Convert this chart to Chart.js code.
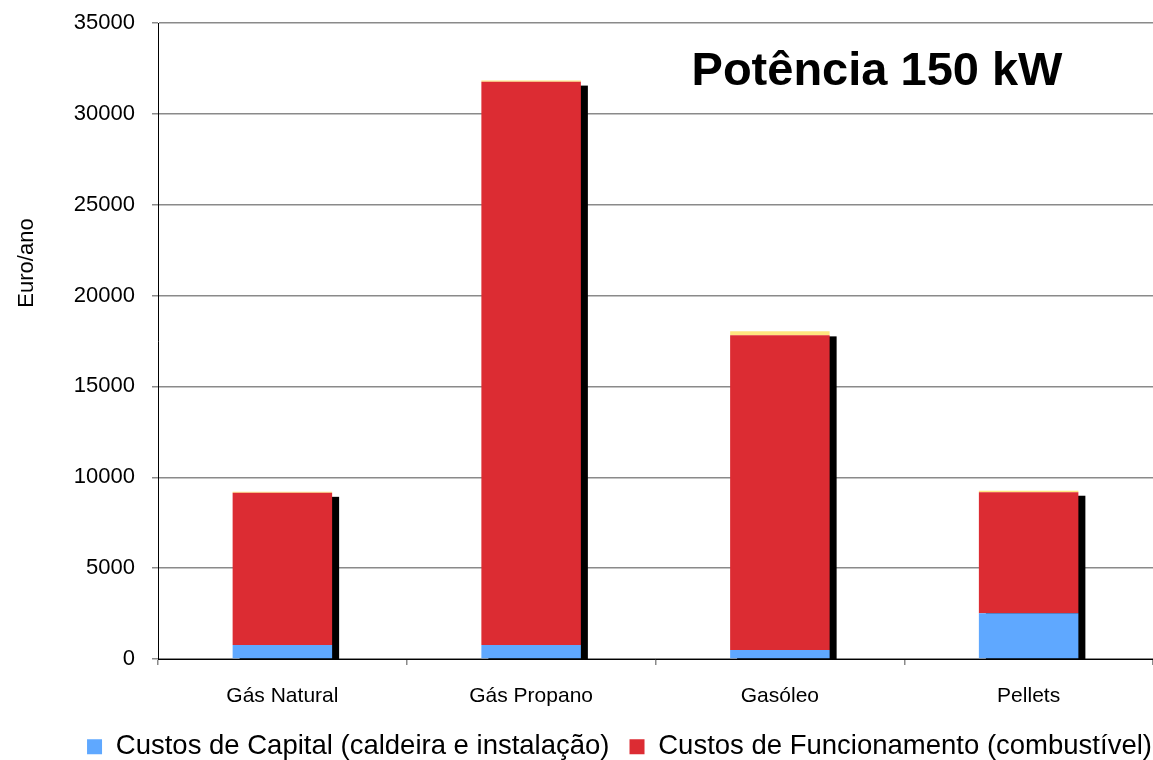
<!DOCTYPE html>
<html lang="pt">
<head>
<meta charset="utf-8">
<title>Potência 150 kW</title>
<script src="https://cdn.jsdelivr.net/npm/chart.js@4/dist/chart.umd.min.js"></script>
<style>
  html, body { margin: 0; padding: 0; background: #fff; }
  #c { display: block; }
</style>
</head>
<body>
<canvas id="c" width="1153" height="760"></canvas>
<script>
// Custos anuais por tipo de combustível (caldeira de 150 kW), em Euro/ano
const categorias = ['Gás Natural', 'Gás Propano', 'Gasóleo', 'Pellets'];
const custosCapital = [770, 770, 500, 2520];
const custosFuncionamento = [8380, 31000, 17310, 6650];
const custosManutencao = [50, 60, 220, 90];
const ticksY = [0, 5000, 10000, 15000, 20000, 25000, 30000, 35000];

const FONT = '"Liberation Sans", Arial, Helvetica, sans-serif';

// Black drop shadow behind every stacked column
const sombraColunas = {
  id: 'sombraColunas',
  beforeDatasetsDraw(chart) {
    const ctx = chart.ctx;
    const last = chart.data.datasets.length - 1;
    const meta = chart.getDatasetMeta(last);
    const y0 = chart.scales.y.getPixelForValue(0);
    const dx = 7, dy = 5;
    ctx.save();
    ctx.fillStyle = '#000';
    meta.data.forEach(bar => {
      const p = bar.getProps(['x', 'y', 'width'], true);
      ctx.fillRect(p.x - p.width / 2 + dx, p.y + dy, p.width, y0 - p.y - dy);
    });
    ctx.restore();
  }
};

// Legend row: one line, centred around x≈621 (middle of 86 … plot right edge)
const legendaCentrada = {
  id: 'legendaCentrada',
  beforeDraw(chart) {
    const lg = chart.legend;
    if (!lg) return;
    const centro = (86 + chart.chartArea.right) / 2;
    const meia = 580;
    lg.left = centro - meia;
    lg.right = centro + meia;
  }
};

// Heading inside the plot and the rotated y-axis caption
const textos = {
  id: 'textos',
  afterDraw(chart) {
    const ctx = chart.ctx;
    ctx.save();
    ctx.fillStyle = '#000';
    ctx.font = 'bold 47px ' + FONT;
    ctx.textAlign = 'center';
    ctx.textBaseline = 'alphabetic';
    ctx.fillText('Potência 150 kW', 877, 85);

    ctx.translate(27, 263);
    ctx.rotate(-Math.PI / 2);
    ctx.font = '22px ' + FONT;
    ctx.textBaseline = 'middle';
    ctx.fillText('Euro/ano', 0, 0);
    ctx.restore();
  }
};

new Chart(document.getElementById('c'), {
  type: 'bar',
  data: {
    labels: categorias,
    datasets: [
      {
        label: 'Custos de Capital (caldeira e instalação)',
        data: custosCapital,
        backgroundColor: '#5FA8FF'
      },
      {
        label: 'Custos de Funcionamento (combustível)',
        data: custosFuncionamento,
        backgroundColor: '#DC2C33'
      },
      {
        label: 'Custos de Manutenção',
        data: custosManutencao,
        backgroundColor: '#FFE680'
      }
    ]
  },
  options: {
    responsive: false,
    animation: false,
    devicePixelRatio: 1,
    layout: { padding: { top: 23, left: 0, right: -4, bottom: -10.5 } },
    datasets: {
      bar: { barPercentage: 0.4, categoryPercentage: 1.0, borderWidth: 0 }
    },
    scales: {
      x: {
        stacked: true,
        offset: true,
        grid: {
          offset: true,
          drawOnChartArea: false,
          tickLength: 6,
          color: '#8a8a8a',
          lineWidth: 1.5
        },
        border: { display: true, color: '#000', width: 1 },
        ticks: { color: '#000', font: { family: FONT, size: 21 }, padding: 19 },
        afterFit(scale) { scale.height = 54; }
      },
      y: {
        stacked: true,
        min: 0,
        max: 35000,
        afterBuildTicks(scale) { scale.ticks = ticksY.map(v => ({ value: v })); },
        grid: { color: '#8a8a8a', lineWidth: 1.5, tickLength: 6 },
        border: { display: true, color: '#000', width: 1 },
        ticks: {
          color: '#000',
          font: { family: FONT, size: 22 },
          padding: 17,
          callback: v => String(v)
        },
        afterFit(scale) {
          scale.width = 158;
          scale.paddingTop = 0;
          scale.paddingBottom = 0;
        }
      }
    },
    plugins: {
      legend: {
        position: 'bottom',
        labels: {
          color: '#000',
          font: { family: FONT, size: 27.5 },
          boxWidth: 15,
          boxHeight: 15,
          padding: 20,
          filter: item => item.datasetIndex < 2
        }
      },
      tooltip: { enabled: false },
      title: { display: false }
    }
  },
  plugins: [sombraColunas, legendaCentrada, textos]
});
</script>
</body>
</html>
